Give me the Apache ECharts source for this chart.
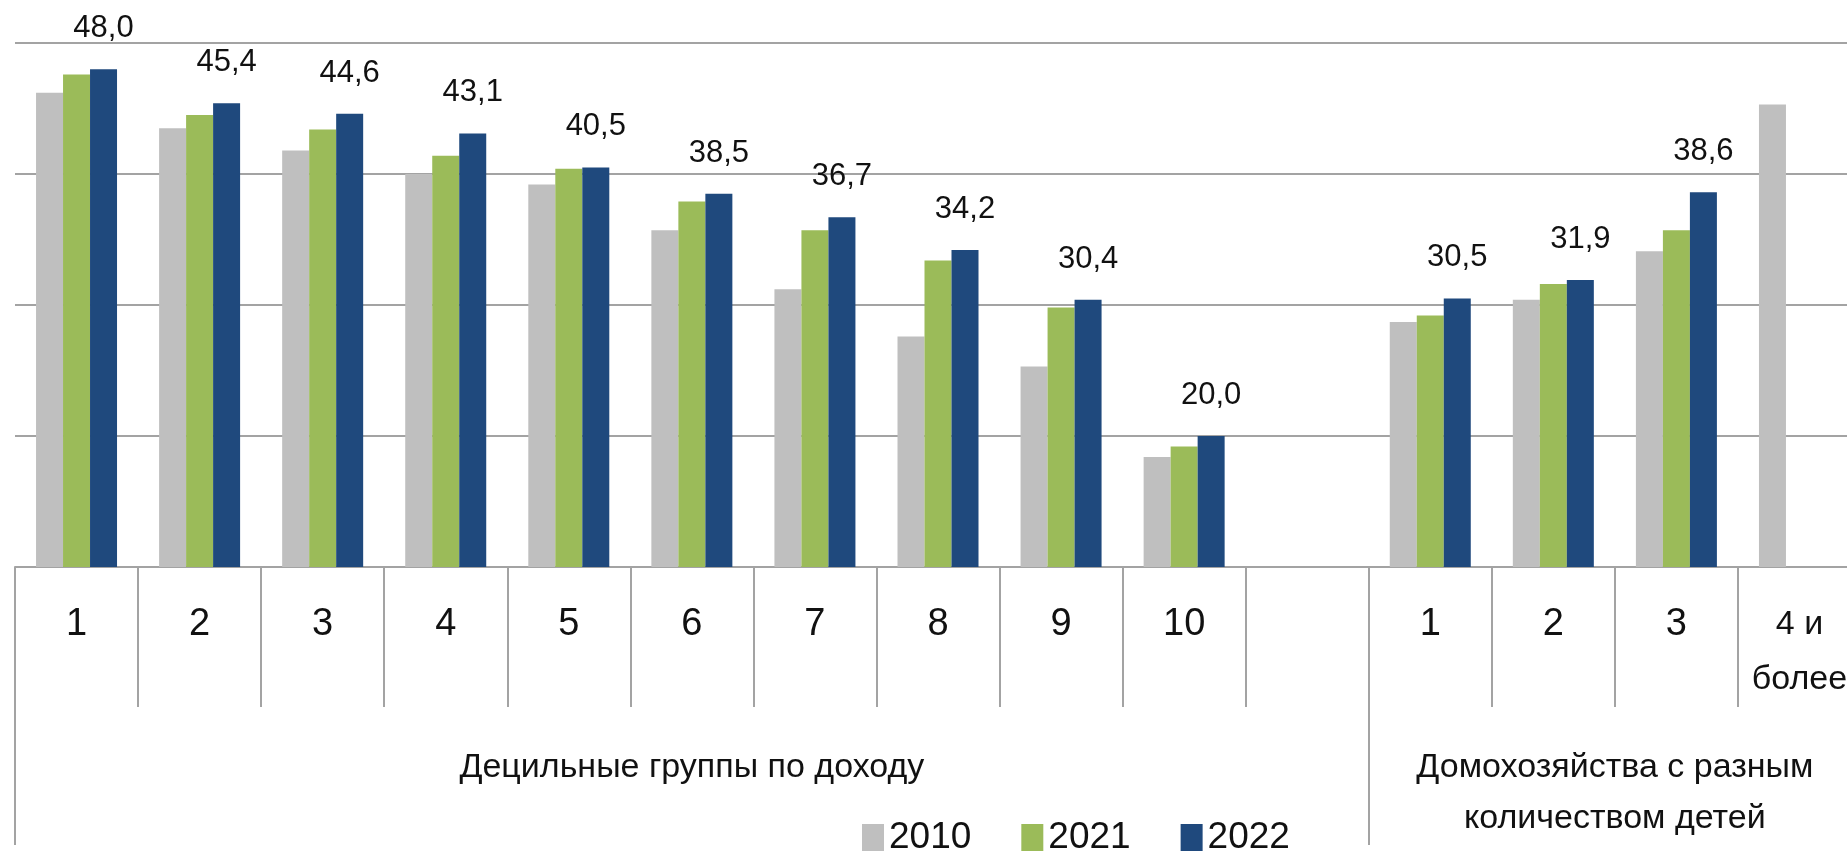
<!DOCTYPE html>
<html>
<head>
<meta charset="utf-8">
<script src="https://cdn.jsdelivr.net/npm/echarts@6/dist/echarts.min.js"></script>
<style>
  html, body { margin: 0; padding: 0; background: #fff; }
  #chart { width: 1847px; height: 855px; }
</style>
</head>
<body>
<div id="chart"></div>
<script>
// категории: 10 децильных групп, пустой разделитель, 4 группы по числу детей
var categories = ['1', '2', '3', '4', '5', '6', '7', '8', '9', '10', '', '1', '2', '3', '4 и\nболее'];
var years = ['2010', '2021', '2022'];
var values2010 = [46.2, 43.5, 41.8, 40.0, 39.2, 35.7, 31.2, 27.6, 25.3, 18.4, null, 28.7, 30.4, 34.1, 45.3];
var values2021 = [47.6, 44.5, 43.4, 41.4, 40.4, 37.9, 35.7, 33.4, 29.8, 19.2, null, 29.2, 31.6, 35.7, null];
var values2022 = [48.0, 45.4, 44.6, 43.1, 40.5, 38.5, 36.7, 34.2, 30.4, 20.0, null, 30.5, 31.9, 38.6, null];
var groupNames = ['Децильные группы по доходу', 'Домохозяйства с разным\nколичеством детей'];
var groupCenters = [5.5, 13];
var groupBounds = [0, 11];

var font = '"Liberation Sans", Arial, sans-serif';
var gridColor = '#a3a3a3';

var chart = echarts.init(document.getElementById('chart'));

// длинная подпись последней категории чуть мельче, чтобы не уходила за край
var axisData = categories.map(function (c) {
    if (c.indexOf('\n') >= 0) {
        return { value: c, textStyle: { fontSize: 34 } };
    }
    return c;
});

function barSeries(name, data, color, withLabel) {
    return {
        name: name,
        type: 'bar',
        data: data,
        barWidth: 27,
        barGap: '0%',
        itemStyle: { color: color },
        label: {
            show: withLabel,
            position: 'top',
            distance: 25,
            fontFamily: font,
            fontSize: 31,
            lineHeight: 31,
            color: '#111',
            formatter: function (p) {
                return p.value == null ? '' : p.value.toFixed(1).replace('.', ',');
            }
        }
    };
}

var option = {
    animation: false,
    backgroundColor: '#fff',
    grid: {
        left: 15,
        right: -14,
        top: 43,
        bottom: 288,
        outerBoundsMode: 'none'
    },
    legend: {
        data: years,
        left: 862,
        top: 819,
        padding: 0,
        icon: 'rect',
        itemWidth: 22,
        itemHeight: 27,
        itemGap: 50,
        textStyle: { fontFamily: font, fontSize: 37, lineHeight: 37, color: '#111' }
    },
    xAxis: [
        {
            type: 'category',
            data: axisData,
            position: 'bottom',
            axisLine: { show: true, lineStyle: { color: gridColor, width: 2 } },
            axisTick: { show: true, interval: 0, length: 140, lineStyle: { color: gridColor, width: 2 } },
            axisLabel: {
                interval: 0,
                margin: 30,
                fontFamily: font,
                fontSize: 38,
                lineHeight: 55,
                color: '#111'
            }
        },
        {
            type: 'value',
            position: 'bottom',
            min: 0,
            max: categories.length,
            splitLine: { show: false },
            axisLine: { show: false },
            axisTick: { show: true, customValues: groupBounds, length: 278, lineStyle: { color: gridColor, width: 2 } },
            axisLabel: {
                customValues: groupCenters,
                margin: 175,
                fontFamily: font,
                fontSize: 34,
                lineHeight: 51,
                color: '#111',
                formatter: function (v) {
                    var i = groupCenters.indexOf(v);
                    return i < 0 ? '' : groupNames[i];
                }
            }
        }
    ],
    yAxis: {
        type: 'value',
        min: 10,
        max: 50,
        interval: 10,
        axisLine: { show: false },
        axisTick: { show: false },
        axisLabel: { show: false },
        splitLine: { lineStyle: { color: gridColor, width: 2 } }
    },
    series: [
        barSeries('2010', values2010, '#bfbfbf', false),
        barSeries('2021', values2021, '#9bbb59', false),
        barSeries('2022', values2022, '#1f497d', true)
    ]
};

chart.setOption(option);
</script>
</body>
</html>
